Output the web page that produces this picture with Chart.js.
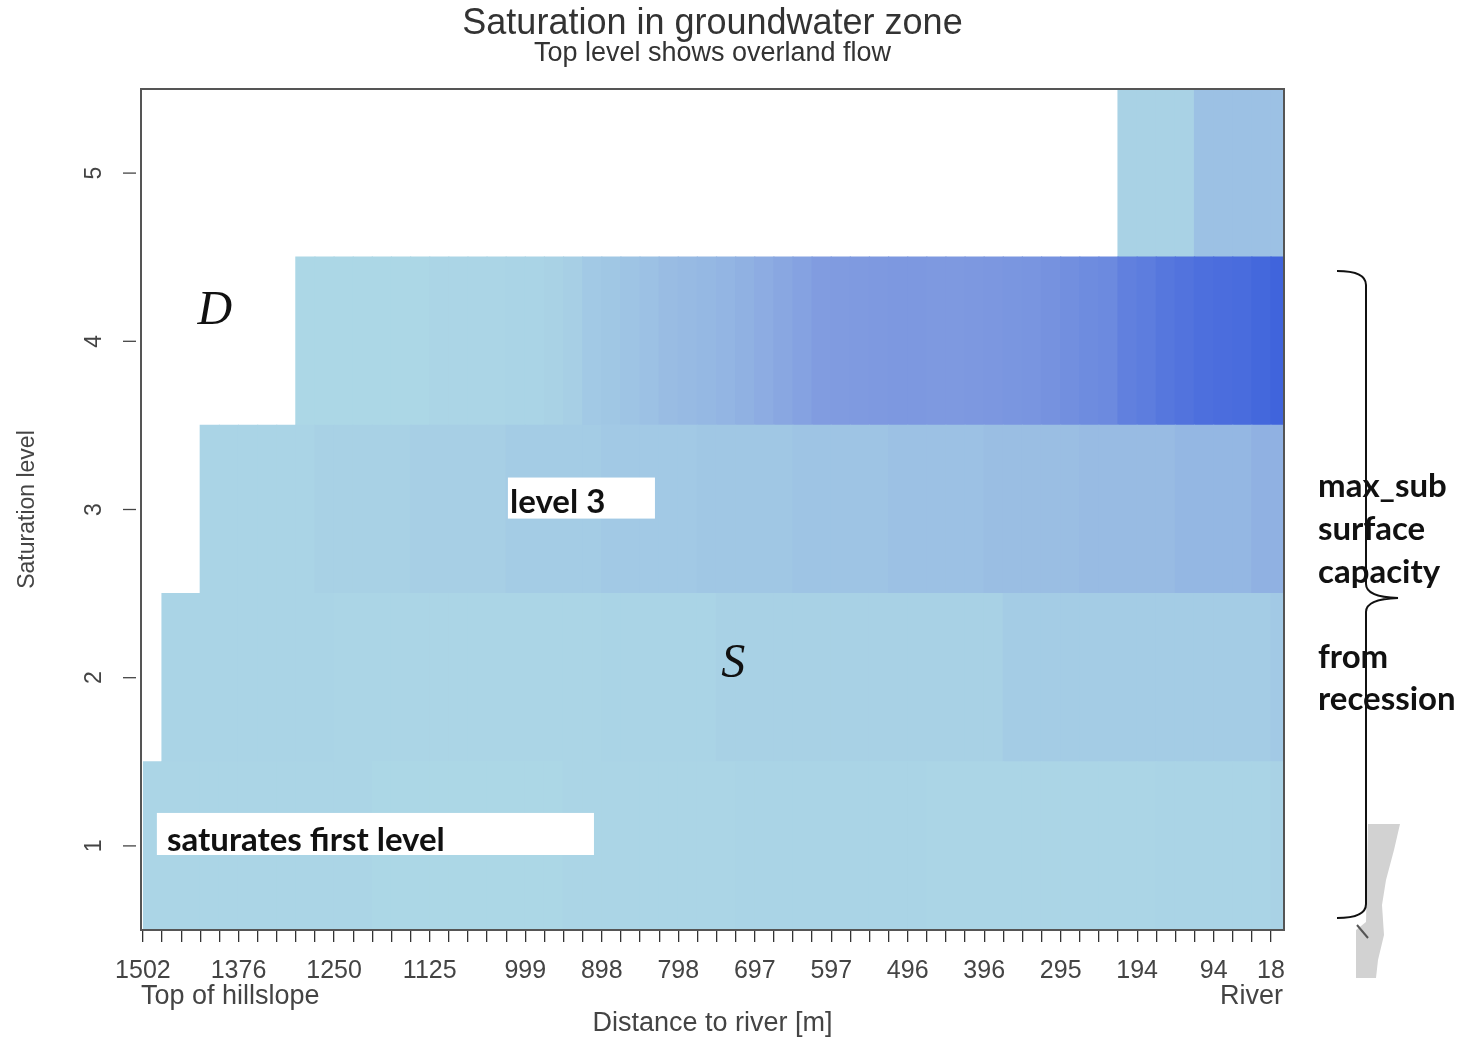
<!DOCTYPE html>
<html><head><meta charset="utf-8">
<script src="https://cdn.jsdelivr.net/npm/chart.js@4.4.1/dist/chart.umd.min.js"></script>
<style>html,body{margin:0;padding:0;background:#fff;}#wrap{width:1465px;height:1040px;}</style>
</head><body><div id="wrap"><canvas id="c" width="1465" height="1040"></canvas></div>
<script>
// ---- data ----
const distances = [1502,1477,1452,1427,1401,1376,1351,1326,1301,1276,1250,1225,1200,1175,1150,1125,1100,1074,1049,1024,
  999,974,949,924,898,873,848,823,798,773,747,722,697,672,647,622,597,571,546,521,
  496,471,446,421,396,370,345,320,295,270,244,219,194,169,144,119,94,69,43,18];
const shownLabels = [1502,1376,1250,1125,999,898,798,697,597,496,396,295,194,94,18];
const levels = [1,2,3,4,5];
// relative saturation intensity of each cell (0 = light blue, 1 = royal blue); null = not saturated
const level1 = [0.02,0.02,0.02,0.02,0.02,0.02,0.02,0.02,0.02,0.02,0.02,0.02,
  0.01,0.01,0.01,0.01,0.01,0.01,0.01,0.01,0.01,0.01,
  0.02,0.02,0.02,0.02,0.02,0.02,0.02,0.02,0.02,
  0.03,0.03,0.03,0.03,0.03,0.03,0.03,0.03,0.03,0.03,
  0.02,0.02,0.02,0.02,0.02,0.02,0.02,0.02,0.02,0.02,0.02,0.02,
  0.03,0.03,0.03,0.03,0.03,0.03,0.04];
const level2 = [null,
  0.03,0.03,0.03,0.03,0.03,0.03,0.03,0.03,0.03,
  0.02,0.02,0.02,0.02,0.02,0.02,0.02,0.02,0.02,0.02,0.02,0.02,0.02,0.02,
  0.03,0.03,0.03,0.03,0.03,0.03,
  0.05,0.05,0.05,0.05,0.05,0.05,0.05,0.05,0.05,0.05,0.05,0.05,0.05,0.05,0.05,
  0.08,0.08,0.08,0.08,0.08,0.08,0.08,0.08,0.08,0.08,0.08,0.08,0.08,0.08,
  0.10];
const level3 = [null,null,null,
  0.03,0.03,0.03,0.03,0.03,0.03,
  0.05,0.05,0.05,0.05,0.05,
  0.06,0.06,0.06,0.06,0.06,
  0.08,0.08,0.08,0.08,0.08,
  0.10,0.10,0.10,0.10,0.10,
  0.12,0.12,0.12,0.12,0.12,
  0.14,0.14,0.14,0.14,0.14,
  0.16,0.16,0.16,0.16,0.16,
  0.18,0.18,0.18,0.18,0.18,
  0.20,0.20,0.20,0.20,0.20,
  0.23,0.23,0.23,0.23,
  0.27,0.27];
const level4 = [null,null,null,null,null,null,null,null,
  0.01,0.01,0.01,0.01,0.01,0.01,0.01,0.02,0.02,0.02,0.02,0.03,0.03,0.04,
  0.06,0.10,0.12,0.14,0.16,0.19,0.21,0.22,0.24,0.27,0.30,0.34,0.37,0.41,0.42,0.43,0.44,0.45,0.45,
  0.44,0.44,0.45,0.46,0.47,0.48,0.51,0.55,0.58,0.60,0.70,0.74,0.80,0.84,0.88,0.90,0.92,0.96,1.00];
const level5 = [null,null,null,null,null,null,null,null,null,null,null,null,null,null,null,null,null,
  null,null,null,null,null,null,null,null,null,null,null,null,null,null,null,null,null,
  null,null,null,null,null,null,null,null,null,null,null,null,null,null,null,null,null,
  0.04,0.04,0.04,0.04,
  0.16,0.16,0.16,0.16,0.16];
const levelSeries = [level1, level2, level3, level4, level5];

// ---- colour ramp: lightblue -> royalblue ----
const rampStops = [[0,[173,216,230]],[0.42,[128,155,224]],[1,[64,100,220]]];
function rampColor(t){
  for (let k = 1; k < rampStops.length; k++) {
    const [t1,c1] = rampStops[k], [t0,c0] = rampStops[k-1];
    if (t <= t1) {
      const f = (t - t0) / (t1 - t0);
      const c = c0.map((v,j) => Math.round(v + (c1[j]-v)*f));
      return `rgb(${c[0]},${c[1]},${c[2]})`;
    }
  }
  const c = rampStops[rampStops.length-1][1];
  return `rgb(${c[0]},${c[1]},${c[2]})`;
}

const datasets = levelSeries.map((vals, k) => {
  const pts = [], cols = [];
  vals.forEach((v, i) => {
    if (v !== null) { pts.push({x: [i, i + 1], y: levels[k]}); cols.push(rampColor(v)); }
  });
  return {label: 'Level ' + levels[k], data: pts, backgroundColor: cols, borderWidth: 0,
    grouped: false, barPercentage: 1, categoryPercentage: 1, inflateAmount: 0.6};
});

// ---- annotations ----
const AFONT = 'Lato';
const overlay = {
  id: 'overlay',
  afterDraw(chart) {
    const ctx = chart.ctx, ca = chart.chartArea;
    const xs = chart.scales.x, ys = chart.scales.y;
    ctx.save();
    // plot box
    ctx.strokeStyle = '#555'; ctx.lineWidth = 2;
    ctx.strokeRect(ca.left, ca.top, ca.right - ca.left, ca.bottom - ca.top);
    // y axis ticks + rotated labels
    ctx.strokeStyle = '#444'; ctx.lineWidth = 1.3;
    ctx.fillStyle = '#444';
    ctx.font = '23px "Liberation Sans"';
    ctx.textAlign = 'center'; ctx.textBaseline = 'middle';
    levels.forEach(v => {
      const py = ys.getPixelForValue(v);
      ctx.beginPath(); ctx.moveTo(ca.left - 18, py); ctx.lineTo(ca.left - 5, py); ctx.stroke();
      ctx.save(); ctx.translate(ca.left - 46, py); ctx.rotate(-Math.PI/2); ctx.fillText(String(v), 0, 0); ctx.restore();
    });
    ctx.save(); ctx.translate(28, (ca.top + ca.bottom)/2); ctx.rotate(-Math.PI/2);
    ctx.fillText('Saturation level', 0, 0); ctx.restore();
    // extra x labels
    ctx.font = '27px "Liberation Sans"'; ctx.fillStyle = '#444';
    ctx.textAlign = 'left'; ctx.fillText('Top of hillslope', ca.left, 997);
    ctx.textAlign = 'right'; ctx.fillText('River', ca.right - 1, 997);
    // white label boxes
    function box(x0, x1, y0, y1) {
      const px0 = xs.getPixelForValue(x0), px1 = xs.getPixelForValue(x1);
      const py0 = ys.getPixelForValue(y0), py1 = ys.getPixelForValue(y1);
      ctx.fillStyle = '#fff'; ctx.fillRect(px0, py0, px1 - px0, py1 - py0);
    }
    box(19.09, 26.78, 3.19, 2.946);
    box(0.73, 23.59, 1.196, 0.946);
    ctx.fillStyle = '#111'; ctx.textAlign = 'left'; ctx.textBaseline = 'alphabetic';
    ctx.font = 'bold 33px ' + AFONT;
    ctx.fillText('level 3', xs.getPixelForValue(19.2), ys.getPixelForValue(2.98));
    ctx.fillText('saturates first level', xs.getPixelForValue(1.26), ys.getPixelForValue(0.97));
    ctx.font = 'italic 48px "Liberation Serif"';
    ctx.textBaseline = 'middle';
    ctx.fillText('D', xs.getPixelForValue(2.85), ys.getPixelForValue(4.18));
    ctx.fillText('S', xs.getPixelForValue(30.25), ys.getPixelForValue(2.08));
    // grey picture fragment
    ctx.fillStyle = '#d2d2d2';
    ctx.beginPath();
    ctx.moveTo(1368,824); ctx.lineTo(1400,824); ctx.lineTo(1394,850); ctx.lineTo(1386,880);
    ctx.lineTo(1382,905); ctx.lineTo(1384,935); ctx.lineTo(1378,960); ctx.lineTo(1376,978);
    ctx.lineTo(1356,978); ctx.lineTo(1356,930); ctx.lineTo(1366,922); ctx.closePath(); ctx.fill();
    ctx.strokeStyle = '#555'; ctx.lineWidth = 2;
    ctx.beginPath(); ctx.moveTo(1357,925); ctx.lineTo(1368,938); ctx.stroke();
    // brace
    ctx.strokeStyle = '#111'; ctx.lineWidth = 2;
    ctx.beginPath();
    ctx.moveTo(1337,271); ctx.quadraticCurveTo(1366,271,1366,285);
    ctx.lineTo(1366,584); ctx.quadraticCurveTo(1366,597,1398,598);
    ctx.quadraticCurveTo(1366,599,1366,612);
    ctx.lineTo(1366,904); ctx.quadraticCurveTo(1366,918,1337,918);
    ctx.stroke();
    // right texts
    ctx.fillStyle = '#111'; ctx.textBaseline = 'alphabetic'; ctx.textAlign = 'left';
    ctx.font = 'bold 33px ' + AFONT;
    [['max_sub',497],['surface',540],['capacity',583],['from',668],['recession',710]].forEach(([t,y]) => ctx.fillText(t, 1318, y));
    ctx.restore();
  }
};

new Chart(document.getElementById('c'), {
  type: 'bar',
  data: {datasets},
  options: {
    responsive: false, animation: false, indexAxis: 'y',
    layout: {padding: {left: 141, right: 181, top: 0, bottom: 0}},
    scales: {
      x: {
        type: 'linear', min: -0.1, max: 59.68,
        afterBuildTicks: s => { s.ticks = distances.map((d, i) => ({value: i})); },
        ticks: {autoSkip: false, maxRotation: 0, minRotation: 0, padding: 14, color: '#444',
          font: {family: 'Liberation Sans', size: 25},
          callback: (v) => { const d = distances[Math.round(v)]; return shownLabels.includes(d) ? String(d) : ''; }},
        grid: {drawOnChartArea: false, drawTicks: true, tickLength: 12, color: '#333', lineWidth: 1.3},
        border: {display: false},
        title: {display: true, text: 'Distance to river [m]', color: '#444',
          font: {family: 'Liberation Sans', size: 27}, padding: {top: 7.6, bottom: 0}}
      },
      y: {
        type: 'linear', min: 0.5, max: 5.5, display: false, offset: false,
        afterBuildTicks: s => { s.ticks = levels.map(v => ({value: v})); }
      }
    },
    plugins: {
      legend: {display: false}, tooltip: {enabled: false},
      title: {display: true, text: 'Saturation in groundwater zone', color: '#333',
        font: {family: 'Liberation Sans', size: 36, weight: 'normal', lineHeight: 0.95}, padding: {top: 7, bottom: 0}},
      subtitle: {display: true, text: 'Top level shows overland flow', color: '#333',
        font: {family: 'Liberation Sans', size: 27, lineHeight: 0.9}, padding: {top: 0, bottom: 23.5}}
    }
  },
  plugins: [overlay]
});
</script></body></html>
